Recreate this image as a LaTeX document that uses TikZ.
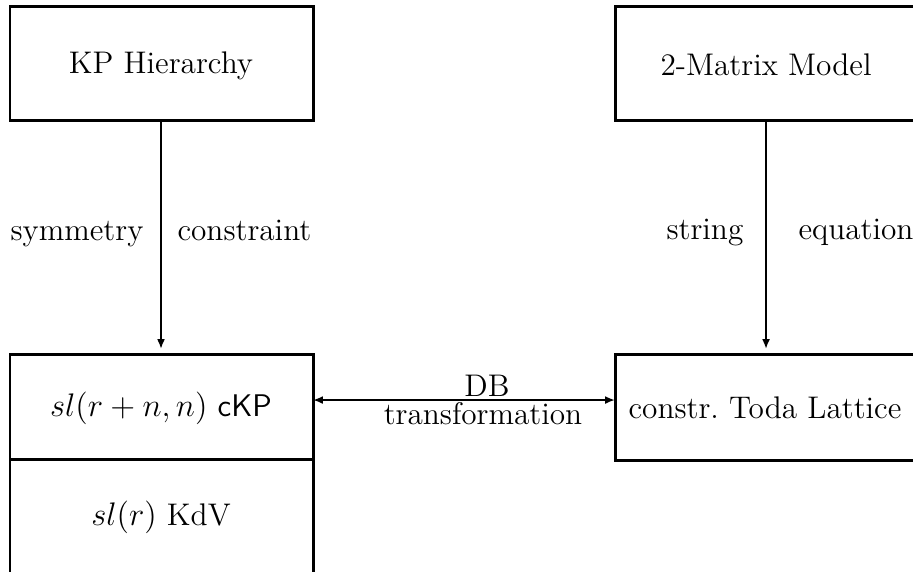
\documentclass[tikz,border=0pt]{standalone}
\usetikzlibrary{arrows.meta}
\begin{document}
\begin{tikzpicture}[x=0.3676pt,y=-0.3676pt,
  box/.style={line width=1.1pt},
  arr/.style={line width=0.8pt,-{Latex[length=3.6pt,width=2.9pt]}},
  darr/.style={line width=0.8pt,{Latex[length=3.6pt,width=2.9pt]}-{Latex[length=3.6pt,width=2.9pt]}},
  lbl/.style={inner sep=0pt,anchor=base,font=\fontsize{11.5}{14}\selectfont}]
\clip (0,0) rectangle (913,571);
% boxes
\draw[box] (10,6) rectangle (313,120);
\draw[box] (925,6) -- (615,6) -- (615,120) -- (925,120);
\draw[box] (10,580) -- (10,354) -- (313,354) -- (313,580);
\draw[box] (10,459) -- (313,459);
\draw[box] (925,354) -- (615,354) -- (615,460) -- (925,460);
% anchor coordinates
\coordinate (kpb) at (161,120);
\coordinate (ckpt) at (161,349);
\coordinate (mmb) at (766,120);
\coordinate (todat) at (766,349);
\coordinate (ckpr) at (313,400);
\coordinate (todal) at (615,400);
% texts
\node[lbl] (kp) at (161,73) {KP Hierarchy};
\node[lbl] (mm) at (766,75) {2-Matrix Model};
\node[lbl] (ckp) at (161,416) {$sl(r+n,n)$ \textsf{cKP}};
\node[lbl] (kdv) at (161,525) {$sl(r)$ KdV};
\node[lbl] (toda) at (765,418) {constr.\ Toda Lattice};
\node[lbl] (db) at (487,396) {DB};
\node[lbl] (tr) at (483,424) {transformation};
\node[lbl,anchor=base west] (sym) at (10,240) {symmetry};
\node[lbl,anchor=base west] (con) at (177,240) {constraint};
\node[lbl,anchor=base west] (str) at (666,239) {string};
\node[lbl,anchor=base west] (eq) at (798,239) {equation};
% arrows
\draw[arr] (kpb) -- (ckpt);
\draw[arr] (mmb) -- (todat);
\draw[darr] (ckpr) -- (todal);
\end{tikzpicture}
\end{document}
